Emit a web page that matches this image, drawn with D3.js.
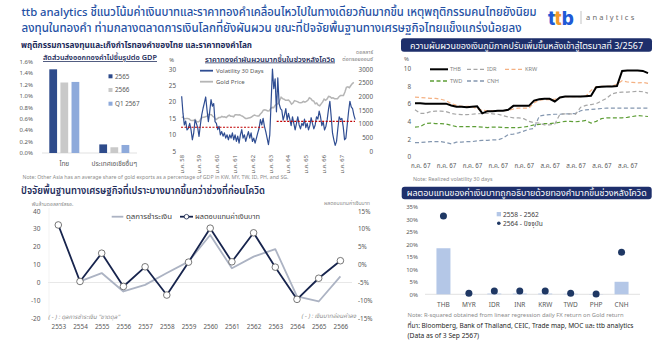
<!DOCTYPE html>
<html><head><meta charset="utf-8">
<script src="https://cdn.jsdelivr.net/npm/d3@7"></script>
<style>
body{margin:0;background:#fff;}
svg{display:block;}
</style></head><body><svg id="c" width="663" height="340"></svg>
<script>
// ================= DATA =================
const titleLines = [
  "ttb analytics ชี้แนวโน้มค่าเงินบาทและราคาทองคำเคลื่อนไหวไปในทางเดียวกันมากขึ้น เหตุพฤติกรรมคนไทยยังนิยม",
  "ลงทุนในทองคำ ท่ามกลางตลาดการเงินโลกที่ยังผันผวน ขณะที่ปัจจัยพื้นฐานทางเศรษฐกิจไทยแข็งแกร่งน้อยลง"
];

// Panel 1: gold exports / GDP
const gdpCategories = ["ไทย", "ประเทศเอเชียอื่นๆ"];
const gdpSeries = ["2565", "2566", "Q1 2567"];
const gdpThai = [1.46, 1.23, 1.24];
const gdpOther = [0.15, 0.10, 0.14];
const gdpTicks = [0, 0.2, 0.4, 0.6, 0.8, 1.0, 1.2, 1.4, 1.6];

// Panel 2: gold volatility & gold price (months since ม.ค. 58)
const volYearLabels = ["ม.ค. 58","ม.ค. 59","ม.ค. 60","ม.ค. 61","ม.ค. 62","ม.ค. 63","ม.ค. 64","ม.ค. 65","ม.ค. 66","ม.ค. 67"];
const volStartMonth = 0.45, volStepMonths = 0.9;
const volatility = [21.7,16.5,13,14.2,11.5,12,13.5,11.6,8.5,10.5,
  14.5,13.5,12.2,9.5,13,16,18,19.7,21.5,17.5,
  14,17,20.7,18.7,19.5,14,13.5,11.6,12.6,10,
  11,9.6,10.6,9,10,8.5,10,9,10.6,8.5,
  10,8,9.6,7.5,10,11.6,9,10,8,9.6,
  11,9,10.6,8,9,7.5,9,10.6,12,14.6,
  13,15,12.6,11,9,7,10,20,30,24,
  27,17,27.3,19.5,18,17.5,14.5,16,18,14.5,
  16.5,14.8,12.8,15.5,13.5,11.5,13.5,15.5,13,11.8,
  13.5,12.8,14.8,12.2,13.5,11.5,12.8,15.2,13.4,11.8,
  13,15.5,14.8,17.2,15.5,12.8,14,11.5,12.5,14.6,
  17.8,20.2,15.5,10.5,8.5,6.8,8,12,15.5,14.6,
  15,12.5,8.5,9,13,17,20.2,18.5,18,16,14.6];
const goldPrice = [
  1250,1230,1180,1200,1200,1180,1130,1120,1125,1160,1090,1070,
  1100,1200,1240,1240,1260,1280,1340,1340,1330,1270,1240,1150,
  1190,1230,1230,1270,1250,1260,1230,1280,1320,1280,1280,1260,
  1330,1330,1325,1335,1300,1280,1240,1200,1200,1215,1220,1250,
  1290,1320,1300,1285,1285,1360,1410,1500,1510,1495,1470,1480,
  1560,1600,1590,1680,1720,1730,1850,1970,1920,1900,1860,1860,
  1870,1810,1720,1760,1850,1830,1810,1780,1770,1780,1820,1790,
  1820,1860,1950,1920,1850,1830,1730,1760,1680,1660,1730,1800,
  1900,1860,1910,2000,1990,1940,1950,1920,1920,1920,1990,2030,
  2030,2030,2160,2330,2350,2320,2400,2470,2510];
const volAverages = [{from: 0, to: 56.6, value: 12.3}, {from: 64.5, to: 117.3, value: 14.1}];
const volTicks = [5, 10, 15, 20, 25, 30];
const goldTicks = [0, 500, 1000, 1500, 2000, 2500, 3000];

// Panel 3: regional FX volatility (trading days, Jul - 3 Sep 2567)
const fxTickIdx = [1, 6, 11, 16, 21, 26, 31, 36, 41];
const fxTickLabels = ["ก.ค. 67","ก.ค. 67","ก.ค. 67","ก.ค. 67","ก.ค. 67","ส.ค. 67","ส.ค. 67","ส.ค. 67","ส.ค. 67"];
const fxNames = ["THB", "IDR", "KRW", "TWD", "CNH"];
const volTHB = [6.05,6.05,6.0,6.0,6.0,6.0,6.0,5.8,5.65,5.65,5.6,5.65,5.7,4.9,5.15,5.15,5.2,5.2,5.3,5.75,5.75,5.75,5.75,6.35,6.5,6.55,6.55,6.25,6.7,6.8,6.8,6.8,6.8,6.85,6.9,7.85,7.9,7.95,7.95,8.0,9.7,9.75,9.75,9.75,9.7,9.45];
const volIDR = [5.3,4.9,4.9,5.1,5.15,5.15,5.1,4.9,4.8,4.75,4.75,4.8,4.85,4.9,4.9,4.85,4.8,4.65,4.5,4.4,4.4,4.3,4.0,3.85,3.8,3.6,3.6,3.7,4.8,4.85,4.85,4.8,5.6,5.8,5.9,6.0,6.3,6.6,7.1,7.25,7.3,7.3,7.35,7.4,7.35,7.2];
const volKRW = [6.75,6.7,6.65,6.6,6.6,6.5,6.35,6.0,5.8,5.7,5.7,5.7,5.4,5.25,5.2,5.2,5.2,5.2,5.25,5.4,5.5,5.5,5.5,6.1,6.4,6.45,6.45,6.5,6.7,6.8,6.8,6.8,6.8,6.85,7.5,7.9,7.95,7.95,8.0,8.2,8.6,8.45,8.4,8.35,8.4,8.3];
const volTWD = [3.35,3.4,3.75,3.8,3.75,3.75,3.7,3.55,3.4,3.4,3.4,3.4,3.4,3.35,3.3,3.35,3.35,3.3,3.3,3.3,3.3,3.35,3.45,3.6,3.65,3.75,3.75,3.8,3.9,4.0,4.0,3.95,4.0,4.1,3.8,4.0,4.3,4.4,4.4,4.4,4.4,4.45,4.55,4.65,4.6,4.55];
const volCNH = [1.6,1.6,1.65,1.7,1.7,1.7,1.6,1.45,1.65,1.65,1.7,1.7,1.8,1.85,1.85,1.9,1.9,2.1,2.5,2.55,2.7,2.9,3.1,3.2,4.6,4.7,4.75,4.8,4.8,4.85,4.85,4.9,5.2,5.3,5.35,5.4,5.45,5.5,5.5,5.5,5.5,5.5,5.5,5.5,5.5,5.5];
const fxTicksY = [0, 2, 4, 6, 8, 10];

// Panel 4: BoP and THB return
const years = ["2553","2554","2555","2556","2557","2558","2559","2560","2561","2562","2563","2564","2565","2566"];
const bop = [null, 0.6, 5.3, -5, -1.3, 5.3, 11.7, 26.6, 8, 14.5, 18.7, -7.8, -10.6, 3.4];
const thbReturn = [11.1, -4.7, 3.2, -6.1, -0.6, -8.5, 0.7, 10.2, 0.8, 8.9, -0.7, -9.7, -3.8, 1.1];
const bopTicks = [-20, -10, 0, 10, 20, 30, 40];
const retTicks = [-15, -10, -5, 0, 5, 10, 15];

// Panel 5: R-squared FX vs gold
const r2Currencies = ["THB","MYR","IDR","INR","KRW","TWD","PHP","CNH"];
const r2Pre = [18.4, 0.1, 0.3, 0.3, 0.3, 0.2, 0.1, 5.0];
const r2Post = [31.3, 0.4, 1.3, 1.3, 1.3, 0.4, 0.1, 16.8];
const r2Ticks = [0, 5, 10, 15, 20, 25, 30, 35];

// ================= DRAW =================
const FONT = '"Noto Sans Thai","Noto Sans","DejaVu Sans",sans-serif';
const svg = d3.select("#c").attr("font-family", FONT);
const GREY = "#595959", NAVY = "#1c2b5a";

function T(x, y, s, o = {}) {
  const t = svg.append("text").attr("x", x).attr("y", y).text(s)
    .attr("font-size", o.size || 7).attr("fill", o.fill || GREY)
    .attr("text-anchor", o.anchor || "start").attr("font-weight", o.weight || 400)
    .attr("font-style", o.style || "normal");
  if (o.len) t.attr("textLength", o.len).attr("lengthAdjust", "spacingAndGlyphs");
  return t;
}
function styleAxis(g, size) {
  g.attr("font-family", FONT).attr("font-size", size || 6.3);
  g.select(".domain").remove();
  g.selectAll(".tick line").remove();
  g.selectAll(".tick text").attr("fill", GREY);
  return g;
}

// ---- Header ----
T(21.5, 15.5, titleLines[0], {size: 11.4, fill: "#2450a4", weight: 500, len: 515});
T(21.5, 31.5, titleLines[1], {size: 11.4, fill: "#2450a4", weight: 500, len: 500});
const logo = svg.append("text").attr("x", 548).attr("y", 24.5).attr("font-size", 19).attr("font-weight", 800).attr("font-family", "Inter, 'Noto Sans', sans-serif");
logo.append("tspan").text("t").attr("fill", "#1f5ad6");
logo.append("tspan").text("t").attr("fill", "#f39a2b");
logo.append("tspan").text("b").attr("fill", "#1f5ad6");
svg.append("line").attr("x1", 581).attr("x2", 581).attr("y1", 11).attr("y2", 24).attr("stroke", "#aaa").attr("stroke-width", 0.7);
T(586, 19.5, "analytics", {size: 7.5, fill: "#6b6b6b"}).attr("letter-spacing", 2.2);

// ---- Section 1 header ----
T(21, 48, "พฤติกรรมการลงทุนและเก็งกำไรทองคำของไทย และราคาทองคำโลก", {size: 9.5, fill: NAVY, weight: 700, len: 231});

// ---- Panel 1: bars ----
T(100, 60, "สัดส่วนส่งออกทองคำไม่ขึ้นรูปต่อ GDP", {size: 7.6, fill: NAVY, anchor: "middle", weight: 600, len: 114}).attr("text-decoration", "underline");
const y1 = d3.scaleLinear().domain([0, 1.6]).range([153, 61.3]);
const x1 = d3.scaleBand().domain(gdpCategories).range([39.3, 139.3]).paddingInner(0.4).paddingOuter(0.2);
const x1s = d3.scaleBand().domain(gdpSeries).range([0, x1.bandwidth()]).paddingInner(0.3);
const gdpColors = d3.scaleOrdinal().domain(gdpSeries).range(["#2e4b8b", "#c9c9c9", "#8eaadb"]);
styleAxis(svg.append("g").attr("transform", "translate(33,0)")
  .call(d3.axisLeft(y1).tickValues(gdpTicks).tickSize(0).tickPadding(0).tickFormat(d => d.toFixed(1) + "%")), 6);
svg.append("line").attr("x1", 42).attr("x2", 137).attr("y1", y1(0)).attr("y2", y1(0)).attr("stroke", "#d9d9d9").attr("stroke-width", 0.8);
const gdpRows = [gdpThai, gdpOther];
gdpCategories.forEach((c, ci) => {
  svg.append("g").selectAll("rect").data(gdpSeries).join("rect")
    .attr("x", s => x1(c) + x1s(s)).attr("width", x1s.bandwidth())
    .attr("y", (s, i) => y1(gdpRows[ci][i])).attr("height", (s, i) => y1(0) - y1(gdpRows[ci][i]))
    .attr("fill", s => gdpColors(s));
});
styleAxis(svg.append("g").attr("transform", `translate(0,${y1(0) + 4})`)
  .call(d3.axisBottom(x1).tickSize(0).tickPadding(4)), 6.5);
gdpSeries.forEach((s, i) => {
  const yy = 76.3 + i * 13.7;
  svg.append("rect").attr("x", 108.5).attr("y", yy - 2).attr("width", 4).attr("height", 4).attr("fill", gdpColors(s));
  T(115, yy + 2.2, s, {size: 6.3});
});
T(22.5, 178.5, "Note: Other Asia has an average share of gold exports as a percentage of GDP in KW, MY, TW, ID, PH, and SG.", {size: 5.2, fill: "#8c8c8c", len: 266});

// ---- Panel 2: volatility & gold ----
T(270, 61.5, "ราคาทองคำผันผวนมากขึ้นในช่วงหลังโควิด", {size: 7.6, fill: NAVY, anchor: "middle", weight: 600, len: 130}).attr("text-decoration", "underline");
const x2 = d3.scaleLinear().domain([0, 117.5]).range([181, 355.3]);
const y2 = d3.scaleLinear().domain([5, 30]).range([151.3, 69]);
const y2r = d3.scaleLinear().domain([0, 3000]).range([151.3, 69]);
styleAxis(svg.append("g").attr("transform", "translate(176,0)")
  .call(d3.axisLeft(y2).tickValues(volTicks).tickSize(0).tickPadding(0)), 6.3);
styleAxis(svg.append("g").attr("transform", "translate(373,0)")
  .call(d3.axisLeft(y2r).tickValues(goldTicks).tickSize(0).tickPadding(0).tickFormat(d3.format("d"))), 6.3);
T(174, 62, "%", {size: 5.8, anchor: "end"});
T(373, 54, "ดอลลาร์", {size: 5.3, anchor: "end", fill: "#808080"});
T(373, 61, "ต่อทรอยออนซ์", {size: 5.3, anchor: "end", fill: "#808080"});
const xa2 = svg.append("g").attr("transform", "translate(0,155)")
  .call(d3.axisBottom(x2).tickValues(d3.range(0, 109, 12)).tickSize(0).tickFormat((d, i) => volYearLabels[i]));
styleAxis(xa2, 5.8);
xa2.selectAll(".tick text").attr("transform", "rotate(-90)").attr("text-anchor", "end").attr("x", 0).attr("y", 0).attr("dy", "0.35em");
svg.append("path").datum(goldPrice)
  .attr("d", d3.line().x((d, i) => x2(i + 0.5)).y(d => y2r(d)))
  .attr("fill", "none").attr("stroke", "#b5b5b5").attr("stroke-width", 1.5);
svg.append("path").datum(volatility)
  .attr("d", d3.line().x((d, i) => x2(volStartMonth + i * volStepMonths)).y(d => y2(d)))
  .attr("fill", "none").attr("stroke", "#2f4d92").attr("stroke-width", 1.2).attr("stroke-linejoin", "round");
svg.append("g").selectAll("line").data(volAverages).join("line")
  .attr("x1", d => x2(d.from)).attr("x2", d => x2(d.to)).attr("y1", d => y2(d.value)).attr("y2", d => y2(d.value))
  .attr("stroke", "#c00000").attr("stroke-width", 1.1).attr("stroke-dasharray", "2,1.5");
svg.append("line").attr("x1", 200).attr("x2", 213).attr("y1", 70.7).attr("y2", 70.7).attr("stroke", "#2f4d92").attr("stroke-width", 1.8);
T(216, 73, "Volatility 30 Days", {size: 6});
svg.append("line").attr("x1", 200).attr("x2", 213).attr("y1", 81.7).attr("y2", 81.7).attr("stroke", "#b5b5b5").attr("stroke-width", 1.8);
T(216, 84, "Gold Price", {size: 6});

// ---- Panel 3: regional FX volatility ----
svg.append("rect").attr("x", 401).attr("y", 38.3).attr("width", 251).attr("height", 13.4).attr("rx", 3).attr("fill", "#1e2f6b");
T(526.5, 48.5, "ความผันผวนของเงินภูมิภาคปรับเพิ่มขึ้นหลังเข้าสู่ไตรมาสที่ 3/2567", {size: 9, fill: "#fff", anchor: "middle", len: 233});
const x3 = d3.scaleLinear().domain([0, 45]).range([415, 648]);
const y3 = d3.scaleLinear().domain([0, 10]).range([156.7, 68.3]);
styleAxis(svg.append("g").attr("transform", "translate(411,0)")
  .call(d3.axisLeft(y3).tickValues(fxTicksY).tickSize(0).tickPadding(0)), 6.3);
T(409, 60.5, "%", {size: 6, anchor: "end"});
styleAxis(svg.append("g").attr("transform", "translate(0,161)")
  .call(d3.axisBottom(x3).tickValues(fxTickIdx).tickSize(0).tickPadding(3).tickFormat((d, i) => fxTickLabels[i])), 6.2);
const fxData = [volTHB, volIDR, volKRW, volTWD, volCNH];
const fxStyle = {
  THB: {c: "#000000", w: 2, dash: null},
  IDR: {c: "#a6a6a6", w: 1.2, dash: "4,2.5"},
  KRW: {c: "#f4b183", w: 1.2, dash: "4,2.5"},
  TWD: {c: "#5e9e37", w: 1.2, dash: "4,2.5"},
  CNH: {c: "#8497b0", w: 1.2, dash: "4,2.5"}
};
const line3 = d3.line().x((d, i) => x3(i)).y(d => y3(d));
[4, 3, 1, 2, 0].forEach(k => {
  const st = fxStyle[fxNames[k]];
  svg.append("path").datum(fxData[k]).attr("d", line3).attr("fill", "none")
    .attr("stroke", st.c).attr("stroke-width", st.w).attr("stroke-dasharray", st.dash);
});
const fxLegendPos = [[430, 69.3], [467, 69.3], [505, 69.3], [430, 81], [467, 81]];
fxNames.forEach((n, k) => {
  const st = fxStyle[n], p = fxLegendPos[k];
  svg.append("line").attr("x1", p[0]).attr("x2", p[0] + 18).attr("y1", p[1]).attr("y2", p[1])
    .attr("stroke", st.c).attr("stroke-width", st.w === 2 ? 2 : 1.3).attr("stroke-dasharray", st.dash);
  T(p[0] + 20, p[1] + 2, n, {size: 5.6, fill: "#7f7f7f"});
});
T(413, 180.5, "Note: Realized volatility 30 days", {size: 5.4, fill: "#8c8c8c"});

// ---- Section 2 header ----
T(21, 194.3, "ปัจจัยพื้นฐานทางเศรษฐกิจที่เปราะบางมากขึ้นกว่าช่วงที่ก่อนโควิด", {size: 10.2, fill: NAVY, weight: 600, len: 244});

// ---- Panel 4: BoP & THB return ----
const x4 = d3.scalePoint().domain(years).range([58.3, 340.4]);
const y4 = d3.scaleLinear().domain([-20, 40]).range([318.3, 211]);
const y4r = d3.scaleLinear().domain([-15, 15]).range([318.3, 211]);
svg.append("line").attr("x1", 48).attr("x2", 352).attr("y1", y4(0)).attr("y2", y4(0)).attr("stroke", "#e8e8e8").attr("stroke-width", 1);
svg.append("line").attr("x1", 49).attr("x2", 49).attr("y1", 208).attr("y2", 320).attr("stroke", "#f0f0f0").attr("stroke-width", 0.8);
styleAxis(svg.append("g").attr("transform", "translate(40.5,0)")
  .call(d3.axisLeft(y4).tickValues(bopTicks).tickSize(0).tickPadding(0)), 6.5);
styleAxis(svg.append("g").attr("transform", "translate(358,0)")
  .call(d3.axisRight(y4r).tickValues(retTicks).tickSize(0).tickPadding(0).tickFormat(d => d + "%")), 6.3);
styleAxis(svg.append("g").attr("transform", "translate(0,324.2)")
  .call(d3.axisBottom(x4).tickSize(0).tickPadding(0)), 6.4);
T(31.7, 205.8, "พันล้านดอลลาร์สรอ.", {size: 5.2, fill: "#8c8c8c"});
T(370, 204.5, "ผลตอบแทนค่าเงินบาท", {size: 5.2, fill: "#8c8c8c", anchor: "end"});
svg.append("path").datum(bop)
  .attr("d", d3.line().defined(d => d !== null).x((d, i) => x4(years[i])).y(d => y4(d)))
  .attr("fill", "none").attr("stroke", "#acb3c3").attr("stroke-width", 1.8).attr("stroke-linejoin", "round");
svg.append("path").datum(thbReturn)
  .attr("d", d3.line().x((d, i) => x4(years[i])).y(d => y4r(d)))
  .attr("fill", "none").attr("stroke", "#17244d").attr("stroke-width", 1.8).attr("stroke-linejoin", "round");
svg.append("g").selectAll("circle").data(thbReturn).join("circle")
  .attr("cx", (d, i) => x4(years[i])).attr("cy", d => y4r(d)).attr("r", 3.3)
  .attr("fill", "#fff").attr("stroke", "#555").attr("stroke-width", 0.8);
svg.append("line").attr("x1", 111.7).attr("x2", 123.3).attr("y1", 216.7).attr("y2", 216.7).attr("stroke", "#acb3c3").attr("stroke-width", 1.8);
T(126, 219.2, "ดุลการชำระเงิน", {size: 7, fill: "#404040", len: 46});
svg.append("line").attr("x1", 180).attr("x2", 193).attr("y1", 216.7).attr("y2", 216.7).attr("stroke", "#17244d").attr("stroke-width", 1.8);
svg.append("circle").attr("cx", 186.5).attr("cy", 216.7).attr("r", 2.3).attr("fill", "#fff").attr("stroke", "#17244d").attr("stroke-width", 0.8);
T(195, 219.2, "ผลตอบแทนค่าเงินบาท", {size: 7, fill: "#404040", len: 65});
T(48, 319, "( - ) : ดุลการชำระเงิน \"ขาดดุล\"", {size: 6, fill: "#8c8c8c", style: "italic"});
T(356, 317.5, "( - ) : เงินบาทอ่อนค่าลง", {size: 6, fill: "#8c8c8c", style: "italic", anchor: "end"});

// ---- Panel 5: R-squared ----
svg.append("rect").attr("x", 401.7).attr("y", 186.7).attr("width", 250).attr("height", 12.6).attr("rx", 3).attr("fill", "#1e2f6b");
T(526.7, 196.3, "ผลตอบแทนของค่าเงินบาทถูกอธิบายด้วยทองคำมากขึ้นช่วงหลังโควิด", {size: 8.8, fill: "#fff", anchor: "middle", len: 240});
const x5 = d3.scaleBand().domain(r2Currencies).range([425, 640]).padding(0.45);
const y5 = d3.scaleLinear().domain([0, 35]).range([294.3, 206.7]);
styleAxis(svg.append("g").attr("transform", "translate(418,0)")
  .call(d3.axisLeft(y5).tickValues(r2Ticks).tickSize(0).tickPadding(0).tickFormat(d => d + "%")), 6);
svg.append("line").attr("x1", 425).attr("x2", 640).attr("y1", y5(0)).attr("y2", y5(0)).attr("stroke", "#d9d9d9").attr("stroke-width", 0.8);
svg.append("g").selectAll("rect").data(r2Pre).join("rect")
  .attr("x", (d, i) => x5(r2Currencies[i])).attr("width", x5.bandwidth())
  .attr("y", d => y5(d)).attr("height", d => y5(0) - y5(d)).attr("fill", "#b4c7e7");
svg.append("g").selectAll("circle").data(r2Post).join("circle")
  .attr("cx", (d, i) => x5(r2Currencies[i]) + x5.bandwidth() / 2).attr("cy", d => y5(d)).attr("r", 3.5)
  .attr("fill", "#1f3864");
styleAxis(svg.append("g").attr("transform", "translate(0,302)")
  .call(d3.axisBottom(x5).tickSize(0).tickPadding(0)), 6.5);
svg.append("rect").attr("x", 496.7).attr("y", 212).attr("width", 4.3).attr("height", 4.3).attr("fill", "#b4c7e7");
T(503, 216.6, "2558 - 2562", {size: 6.6, fill: "#404040"});
svg.append("circle").attr("cx", 498.8).attr("cy", 223.3).attr("r", 1.8).attr("fill", "#1f3864");
T(503, 225.6, "2564 - ปัจจุบัน", {size: 6.6, fill: "#404040"});
T(407.5, 317, "Note: R-squared obtained from linear regression daily FX return  on Gold return", {size: 5.3, fill: "#8c8c8c", len: 216});
T(407.5, 328.3, "ที่มา: Bloomberg, Bank of Thailand, CEIC, Trade map, MOC และ ttb  analytics", {size: 6.7, fill: "#262626", len: 226});
T(407.5, 337.6, "(Data as of 3 Sep 2567)", {size: 6.7, fill: "#262626"});
</script></body></html>
